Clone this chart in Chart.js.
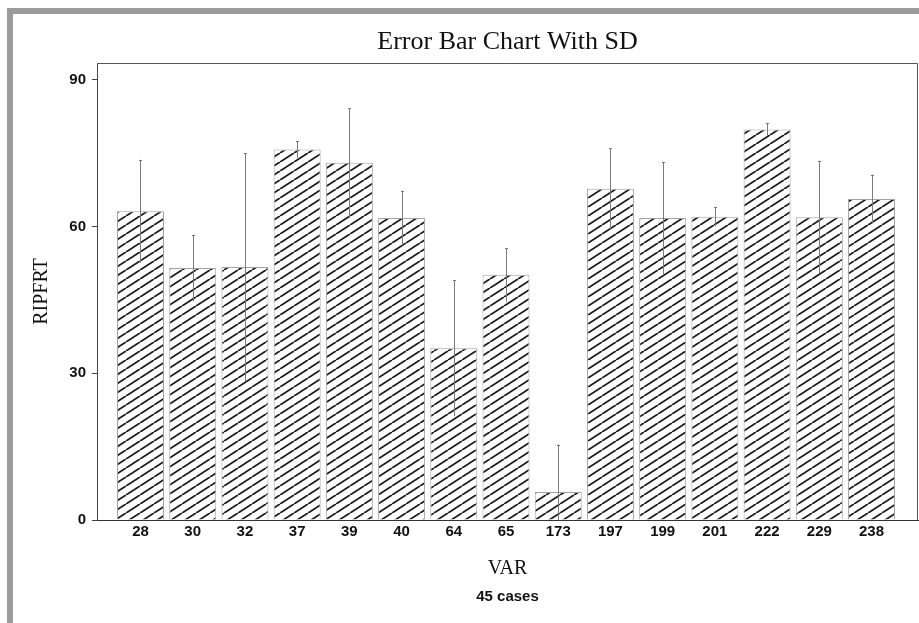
<!DOCTYPE html>
<html>
<head>
<meta charset="utf-8">
<script src="https://cdn.jsdelivr.net/npm/chart.js@4.4.1/dist/chart.umd.min.js"></script>
<style>
  html, body { margin: 0; padding: 0; background: #fff; }
  #wrap { position: relative; width: 919px; height: 623px; overflow: hidden; }
  #frame { position: absolute; left: 7px; top: 8px; right: -10px; bottom: -10px;
           border-left: 6px solid #9b9b9b; border-top: 6px solid #9b9b9b; pointer-events: none; }
  canvas { position: absolute; left: 0; top: 0; }
</style>
</head>
<body>
<div id="wrap">
  <canvas id="errChart" width="919" height="623"></canvas>
  <div id="frame"></div>
</div>
<script>
  // values
  const categories = ['28', '30', '32', '37', '39', '40', '64', '65', '173', '197', '199', '201', '222', '229', '238'];
  const means = [63.1, 51.5, 51.7, 75.7, 73.0, 61.7, 35.1, 50.1, 5.7, 67.7, 61.7, 62.0, 79.8, 61.9, 65.6];
  const sds = [10.5, 6.8, 23.3, 1.7, 11.2, 5.6, 13.9, 5.5, 9.7, 8.3, 11.5, 2.0, 1.3, 11.5, 5.0];
  const yTicks = [0, 30, 60, 90];

  const canvas = document.getElementById('errChart');
  const ctx = canvas.getContext('2d');

  // diagonal hatch fill like the printed chart
  function makeHatch() {
    const w = 14, h = 9;
    const c = document.createElement('canvas');
    c.width = w; c.height = h;
    const g = c.getContext('2d');
    g.fillStyle = '#fff';
    g.fillRect(0, 0, w, h);
    g.strokeStyle = '#1c1c1c';
    g.lineWidth = 1.8;
    [-w, 0, w].forEach(dx => {
      g.beginPath();
      g.moveTo(dx, h);
      g.lineTo(dx + w, 0);
      g.stroke();
    });
    return ctx.createPattern(c, 'repeat');
  }

  // top and right edges of the plot box
  const plotFrame = {
    id: 'plotFrame',
    afterDraw(chart) {
      const a = chart.chartArea;
      const c = chart.ctx;
      c.save();
      c.strokeStyle = '#555';
      c.lineWidth = 1;
      c.beginPath();
      c.moveTo(a.left, a.top + 0.5);
      c.lineTo(a.right - 0.5, a.top + 0.5);
      c.lineTo(a.right - 0.5, a.bottom);
      c.stroke();
      c.restore();
    }
  };

  // +/- 1 SD lines
  const errorBars = {
    id: 'errorBars',
    afterDatasetsDraw(chart) {
      const a = chart.chartArea;
      const c = chart.ctx;
      const y = chart.scales.y;
      const meta = chart.getDatasetMeta(0);
      c.save();
      c.beginPath();
      c.rect(a.left, a.top, a.width, a.height);
      c.clip();
      c.strokeStyle = '#7a7a7a';
      c.lineWidth = 1;
      meta.data.forEach((bar, i) => {
        const x = Math.round(bar.x) + 0.5;
        const top = y.getPixelForValue(means[i] + sds[i]);
        const bot = y.getPixelForValue(means[i] - sds[i]);
        c.beginPath();
        c.moveTo(x, top);
        c.lineTo(x, bot);
        c.moveTo(x - 1.5, Math.round(top) + 0.5);
        c.lineTo(x + 1.5, Math.round(top) + 0.5);
        c.stroke();
      });
      c.restore();
    }
  };

  new Chart(ctx, {
    type: 'bar',
    data: {
      datasets: [{
        label: 'RIPFRT',
        data: means.map((v, i) => ({ x: i, y: v })),
        backgroundColor: makeHatch(),
        borderColor: '#a3a3a3',
        borderWidth: 1,
        barPercentage: 1,
        categoryPercentage: 0.9
      }]
    },
    options: {
      responsive: false,
      animation: false,
      layout: { padding: { left: 0, right: 1, top: 0, bottom: 0 } },
      plugins: {
        legend: { display: false },
        tooltip: { enabled: false },
        title: {
          display: true,
          text: 'Error Bar Chart With SD',
          fullSize: false,
          color: '#111',
          font: { family: 'Liberation Serif', size: 26, weight: 'normal' },
          padding: { top: 27, bottom: 4.8 }
        },
        subtitle: {
          display: true,
          position: 'bottom',
          text: '45 cases',
          fullSize: false,
          color: '#111',
          font: { family: 'Liberation Sans', size: 15, weight: 'bold' },
          padding: { top: 4, bottom: 17 }
        }
      },
      scales: {
        x: {
          type: 'linear',
          offset: false,
          min: -0.833,
          max: 14.89,
          afterFit: s => { s.height = 64; },
          afterBuildTicks: s => { s.ticks = categories.map((c, i) => ({ value: i })); },
          grid: { display: false, drawTicks: false },
          border: { display: true, color: '#333', width: 1 },
          ticks: {
            autoSkip: false,
            maxRotation: 0,
            padding: 3,
            color: '#111',
            font: { family: 'Liberation Sans', size: 15, weight: 'bold' },
            callback: v => categories[v]
          },
          title: {
            display: true,
            text: 'VAR',
            color: '#111',
            font: { family: 'Liberation Serif', size: 20, weight: 'normal' },
            padding: { top: 0, bottom: 3.5 }
          }
        },
        y: {
          min: 0,
          max: 93.4,
          afterFit: s => { s.width = 97; },
          afterBuildTicks: s => { s.ticks = yTicks.map(v => ({ value: v })); },
          grid: { display: true, drawOnChartArea: false, drawTicks: true, tickLength: 5, color: '#444' },
          border: { display: true, color: '#444', width: 1 },
          ticks: {
            padding: 6,
            color: '#111',
            font: { family: 'Liberation Sans', size: 15, weight: 'bold' }
          },
          title: {
            display: true,
            text: 'RIPFRT',
            color: '#111',
            font: { family: 'Liberation Serif', size: 20, weight: 'normal' },
            padding: { top: 30, bottom: 0 }
          }
        }
      }
    },
    plugins: [plotFrame, errorBars]
  });
</script>
</body>
</html>
